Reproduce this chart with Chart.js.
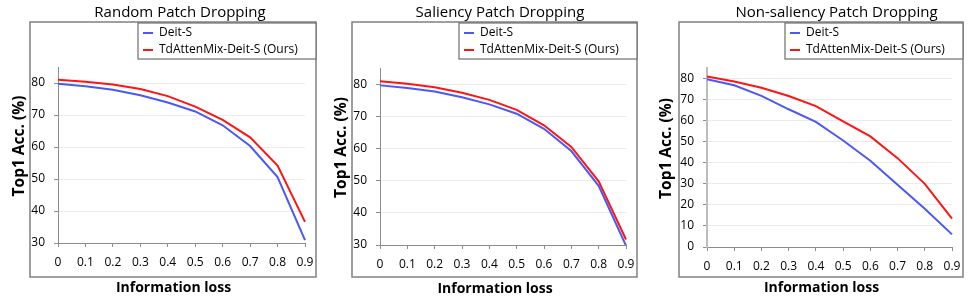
<!DOCTYPE html>
<html>
<head>
<meta charset="utf-8">
<script src="https://cdn.jsdelivr.net/npm/chart.js@4.4.1/dist/chart.umd.min.js"></script>
<style>
  html, body { margin: 0; padding: 0; background: #fff; }
  #page { position: relative; width: 969px; height: 301px; }
  #page canvas { position: absolute; top: 0; }
</style>
</head>
<body>
<div id="page">
  <canvas id="graph-random" width="322" height="301" style="left:0px"></canvas>
  <canvas id="graph-saliency" width="322" height="301" style="left:322px"></canvas>
  <canvas id="graph-nonsaliency" width="325" height="301" style="left:644px"></canvas>
</div>
<script>
// Perte d'information (axe x)
const pertes = ['0', '0.1', '0.2', '0.3', '0.4', '0.5', '0.6', '0.7', '0.8', '0.9'];

const nomsSeries = ['Deit-S', 'TdAttenMix-Deit-S (Ours)'];

// Random Patch Dropping
const randomDeit = [79.8, 79.0, 77.9, 76.2, 73.9, 71.1, 66.8, 60.3, 50.6, 30.9];
const randomOurs = [81.0, 80.4, 79.5, 78.1, 75.9, 72.6, 68.5, 63.0, 54.2, 36.6];

// Saliency Patch Dropping
const saliencyDeit = [79.6, 78.8, 77.7, 75.9, 73.7, 70.8, 66.1, 59.2, 48.4, 29.8];
const saliencyOurs = [80.9, 80.1, 79.0, 77.3, 75.1, 72.0, 67.2, 60.5, 49.8, 31.7];

// Non-saliency Patch Dropping
const nonSalDeit = [79.7, 76.8, 71.8, 65.4, 59.4, 50.6, 41.0, 29.6, 18.2, 6.0];
const nonSalOurs = [81.0, 78.6, 75.6, 71.7, 66.9, 59.7, 52.5, 42.2, 30.0, 13.5];

const FONT = '"Open Sans", "Noto Sans", sans-serif';
const BLEU = '#4b58f7';
const ROUGE = '#ff1414';
const TEXTE = '#000';

// Décale le titre d'un axe sans toucher aux graduations
function decalerTitreAxe(axe, dx, dy) {
    axe.drawTitle = function () {
        this.left += dx; this.right += dx; this.top += dy; this.bottom += dy;
        Object.getPrototypeOf(this).drawTitle.call(this);
        this.left -= dx; this.right -= dx; this.top -= dy; this.bottom -= dy;
    };
}

/**
 * Cadre gris autour de chaque panneau + boîte de légende en haut à droite.
 * La légende est en position 'chartArea' (hors mise en page), on la déplace ici.
 */
const cadrePlugin = {
    id: 'cadre',
    afterLayout(chart, args, opts) {
        // titres centrés sur le cadre plutôt que sur la zone de tracé
        if (chart.titleBlock) {
            chart.titleBlock.left += opts.decalTitre;
            chart.titleBlock.right += opts.decalTitre;
        }
        decalerTitreAxe(chart.scales.x, -8, 0);
        decalerTitreAxe(chart.scales.y, 0, -9);
    },
    beforeDraw(chart) {
        const {ctx, chartArea} = chart;
        const gauche = chartArea.left - 28;
        const droite = chartArea.right + 11;
        const haut = 22;
        const bas = chart.height - 24;

        ctx.save();
        ctx.strokeStyle = '#808080';
        ctx.lineWidth = 1.5;
        ctx.strokeRect(gauche, haut, droite - gauche, bas - haut);

        const lg = chart.legend;
        lg.left = droite - 178;
        lg.top = 22;
        lg.right = lg.left + lg.width;
        lg.bottom = lg.top + 40;

        ctx.fillStyle = '#fff';
        ctx.fillRect(lg.left, 23, droite - lg.left, 36);
        ctx.lineWidth = 1.2;
        ctx.strokeStyle = '#6e6e6e';
        ctx.strokeRect(lg.left, 23, droite - lg.left, 36);
        ctx.restore();
    }
};

function creerPanneau(id, titre, yMin, deit, ours, mise) {
    const ctx = document.getElementById(id);
    return new Chart(ctx, {
        type: 'line',
        data: {
            labels: pertes,
            datasets: [
                { label: nomsSeries[0], data: deit, borderColor: BLEU, backgroundColor: BLEU, borderWidth: 2, pointRadius: 0, tension: 0 },
                { label: nomsSeries[1], data: ours, borderColor: ROUGE, backgroundColor: ROUGE, borderWidth: 2, pointRadius: 0, tension: 0 }
            ]
        },
        options: {
            responsive: false,
            animation: false,
            devicePixelRatio: 1,
            layout: { padding: { left: 0, right: mise.padDroite, top: 0, bottom: 0 } },
            plugins: {
                title: {
                    display: true,
                    text: titre,
                    fullSize: false,
                    color: TEXTE,
                    font: { family: FONT, size: 15, weight: 'normal' },
                    padding: { top: 4, bottom: mise.padTitre }
                },
                legend: {
                    position: 'chartArea',
                    align: 'start',
                    labels: {
                        boxWidth: 10,
                        boxHeight: 2,
                        padding: 5,
                        color: TEXTE,
                        font: { family: FONT, size: 12 },
                        generateLabels(chart) {
                            return Chart.defaults.plugins.legend.labels.generateLabels(chart)
                                .map(item => Object.assign(item, { lineWidth: 0, fillStyle: item.strokeStyle }));
                        }
                    }
                },
                tooltip: { enabled: false },
                cadre: { decalTitre: mise.decalTitre }
            },
            scales: {
                x: {
                    offset: false,
                    grid: { drawOnChartArea: false, drawTicks: true, tickLength: 4, tickColor: '#8c8c8c' },
                    border: { color: '#8c8c8c', width: 1 },
                    ticks: { color: TEXTE, font: { family: FONT, size: 12 }, padding: 8, maxRotation: 0, autoSkip: false },
                    title: {
                        display: true,
                        text: 'Information loss',
                        color: TEXTE,
                        font: { family: FONT, size: 14, weight: 'bold' },
                        padding: { top: 0, bottom: mise.padTitreX }
                    },
                    afterFit(axis) { axis.height = mise.hauteurX; }
                },
                y: {
                    min: yMin,
                    max: 85,
                    ticks: { stepSize: 10, includeBounds: false, color: TEXTE, font: { family: FONT, size: 12 }, padding: 9 },
                    grid: { color: '#ebebeb', drawTicks: true, tickLength: 4, tickColor: '#8c8c8c' },
                    border: { color: mise.couleurAxeY, width: mise.largeurAxeY },
                    title: {
                        display: true,
                        text: 'Top1 Acc. (%)',
                        color: TEXTE,
                        font: { family: FONT, size: 15.5, weight: 'bold' },
                        padding: { top: mise.padTitreY, bottom: 0 }
                    },
                    // on ne garde que les dizaines (pas de graduation à 85)
                    afterBuildTicks(axis) { axis.ticks = axis.ticks.filter(t => t.value % 10 === 0); },
                    afterFit(axis) { axis.width = mise.largeurY; }
                }
            }
        },
        plugins: [cadrePlugin]
    });
}

creerPanneau('graph-random', 'Random Patch Dropping', 30, randomDeit, randomOurs,
    { padDroite: 17, padTitre: 45, largeurY: 58, hauteurX: 58, padTitreY: 10, padTitreX: 5, decalTitre: -1.5, couleurAxeY: '#8c8c8c', largeurAxeY: 1 });
creerPanneau('graph-saliency', 'Saliency Patch Dropping', 30, saliencyDeit, saliencyOurs,
    { padDroite: 18, padTitre: 46, largeurY: 58, hauteurX: 56, padTitreY: 10, padTitreX: 4, decalTitre: -3, couleurAxeY: '#8c8c8c', largeurAxeY: 1 });
creerPanneau('graph-nonsaliency', 'Non-saliency Patch Dropping', 0, nonSalDeit, nonSalOurs,
    { padDroite: 17, padTitre: 46, largeurY: 63, hauteurX: 54, padTitreY: 13, padTitreX: 5, decalTitre: 7, couleurAxeY: '#bdbdbd', largeurAxeY: 2 });
</script>
</body>
</html>
